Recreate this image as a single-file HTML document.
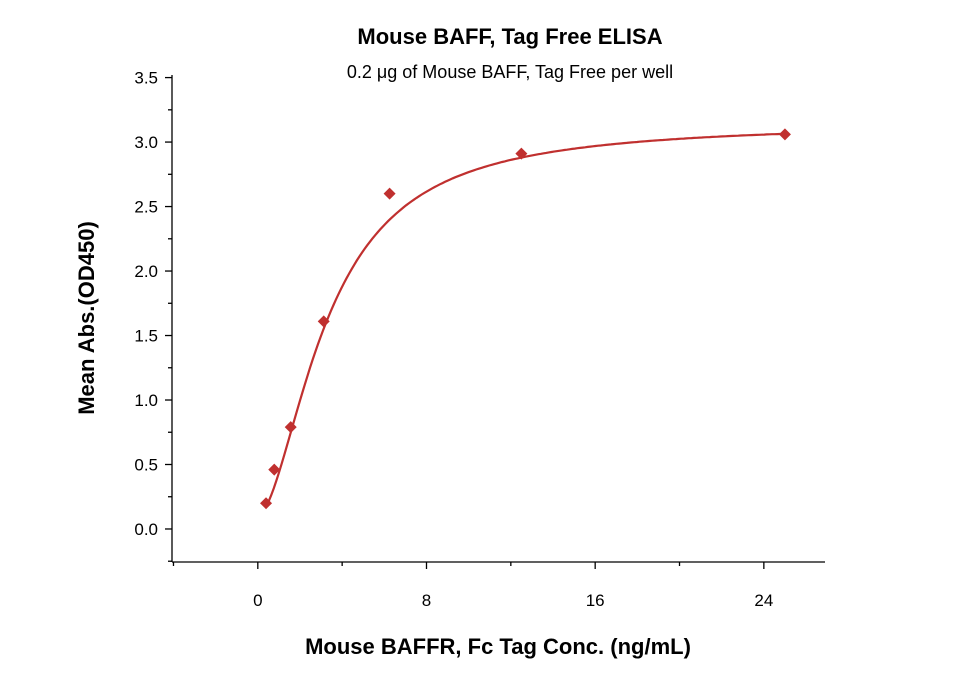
<!DOCTYPE html>
<html><head><meta charset="utf-8"><style>
body{margin:0;background:#fff;}
svg{display:block;font-family:"Liberation Sans",sans-serif;}
</style></head><body>
<svg id="chart" width="960" height="674">
<text x="510" y="44" text-anchor="middle" font-size="22" font-weight="bold">Mouse BAFF, Tag Free ELISA</text>
<text x="510" y="78" text-anchor="middle" font-size="18">0.2 μg of Mouse BAFF, Tag Free per well</text>
<text transform="translate(94,318) rotate(-90)" text-anchor="middle" font-size="22" font-weight="bold">Mean Abs.(OD450)</text>
<text x="498" y="654" text-anchor="middle" font-size="22" font-weight="bold">Mouse BAFFR, Fc Tag Conc. (ng/mL)</text>
<g id="axes"></g><g id="marks"></g>
</svg>
<script>
const concs=[0.39,0.78,1.56,3.125,6.25,12.5,25];
const values=[0.20,0.46,0.79,1.61,2.60,2.91,3.06];
const xTicks=[0,8,16,24];
const yTicks=[0,0.5,1.0,1.5,2.0,2.5,3.0,3.5];
const fitParams=[0.1,3.15,3.3,1.75]; // bottom, top, ec50, hill
const X0=172,X1=825,Y0=562,Y1=75;
const xmin=-4.07,xmax=26.9,ymin=-0.256,ymax=3.52;
const sx=v=>X0+(v-xmin)/(xmax-xmin)*(X1-X0);
const sy=v=>Y0-(v-ymin)/(ymax-ymin)*(Y0-Y1);
const NS="http://www.w3.org/2000/svg";
const ax=document.getElementById('axes'),mk=document.getElementById('marks');
function mkEl(t,a,p){const e=document.createElementNS(NS,t);for(const k in a)e.setAttribute(k,a[k]);p.appendChild(e);return e;}
let e=mkEl('line',{x1:X0,y1:Y1,x2:X0,y2:Y0,stroke:'#000','stroke-width':1.3},ax);


e=mkEl('line',{x1:X0,y1:Y0,x2:X1,y2:Y0,stroke:'#000','stroke-width':1.3},ax);


yTicks.forEach((t,i)=>{const y=sy(t);
 mkEl('line',{x1:X0-7,y1:y,x2:X0,y2:y,stroke:'#000','stroke-width':1.3},ax);
 if(i<yTicks.length-1) mkEl('line',{x1:X0-4,y1:sy(t+0.25),x2:X0,y2:sy(t+0.25),stroke:'#000','stroke-width':1.3},ax);
 const tx=mkEl('text',{x:X0-14,y:y+6,'text-anchor':'end','font-size':17},ax);tx.textContent=t.toFixed(1);
 
 });
mkEl('line',{x1:X0-4,y1:sy(-0.25),x2:X0,y2:sy(-0.25),stroke:'#000','stroke-width':1.3},ax);
for(let v=-4;v<=26;v+=4){const x=sx(v);const major=xTicks.includes(v);
 mkEl('line',{x1:x,y1:Y0,x2:x,y2:Y0+(major?7:4),stroke:'#000','stroke-width':1.3},ax);}
xTicks.forEach(t=>{const tx=mkEl('text',{x:sx(t),y:Y0+44,'text-anchor':'middle','font-size':17},ax);tx.textContent=t;
 
 });
const [b,tp,ec,h]=fitParams;
const f=x=>b+(tp-b)/(1+Math.pow(ec/x,h));
let d='';const n=200,lo=concs[0],hi=concs[concs.length-1];
for(let i=0;i<=n;i++){const x=lo+(hi-lo)*i/n;d+=(i?'L':'M')+sx(x).toFixed(1)+','+sy(f(x)).toFixed(1);}
const c=mkEl('path',{d:d,fill:'none',stroke:'#c0302f','stroke-width':2.2},mk);


concs.forEach((x,i)=>{const px=sx(x),py=sy(values[i]);
 const p=mkEl('polygon',{points:`${px},${py-6} ${px+6},${py} ${px},${py+6} ${px-6},${py}`,fill:'#c0302f'},mk);
 
 });
</script>
</body></html>
